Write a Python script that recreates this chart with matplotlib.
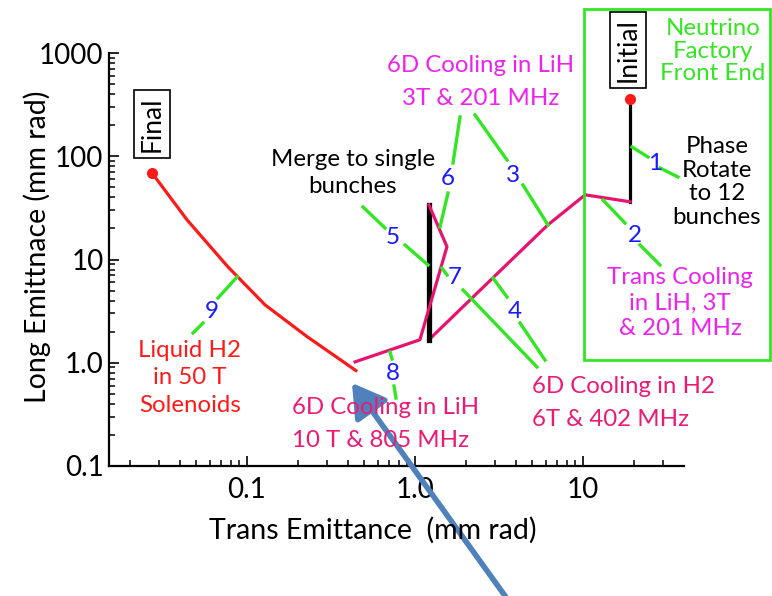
import numpy as np
import matplotlib
matplotlib.use('Agg')
import matplotlib.pyplot as plt
from matplotlib.lines import Line2D
from matplotlib.patches import Rectangle
from matplotlib.ticker import NullFormatter

plt.rcParams['font.family'] = ['Lato', 'DejaVu Sans']

# emittance path, stage by stage (mm rad)
rotate_x = [19.1, 19.1]
rotate_y = [359, 36.2]
trans_x = [19.1, 10.3]
trans_y = [36.2, 42.3]
cool6d_x = [10.3, 6.19, 2.91, 1.21]
cool6d_y = [42.3, 21.7, 6.65, 1.67]
merge_x = [1.21, 1.21]
merge_y = [1.67, 33.8]
lih_x = [1.21, 1.55, 1.07, 0.44]
lih_y = [33.8, 13.3, 1.67, 1.02]
h2_x = [0.445, 0.228, 0.128, 0.077, 0.044, 0.0272]
h2_y = [0.84, 1.79, 3.64, 8.5, 24.2, 69]

W, H = 772, 596
RED = '#ff1a1a'
PINK = '#e6146e'
MAG = '#ee22ee'
PRED = '#ec1a74'
GREEN = '#33e622'
BLUE = '#1a1aff'


def fp(x, y):
    # pixel position -> figure fraction
    return x / W, 1 - y / H


fig = plt.figure(figsize=(W / 100, H / 100), dpi=100)
ax = fig.add_axes([109 / W, 1 - 466 / H, (684 - 109) / W, (466 - 53) / H])
ax.set_xscale('log')
ax.set_yscale('log')
ax.set_xlim(0.0151, 39.9)
ax.set_ylim(0.1, 1000)

ax.plot(rotate_x, rotate_y, color='black', lw=2.3)
ax.plot(trans_x, trans_y, color=PINK, lw=2.3)
ax.plot(cool6d_x, cool6d_y, color=PINK, lw=2.3)
ax.plot(merge_x, merge_y, color='black', lw=3.8)
ax.plot(lih_x, lih_y, color=PINK, lw=2.3)
ax.plot(h2_x, h2_y, color=RED, lw=2.3)
ax.plot(rotate_x[0], rotate_y[0], 'o', color=RED, ms=7)
ax.plot(h2_x[-1], h2_y[-1], 'o', color=RED, ms=7)

for s in ['top', 'right']:
    ax.spines[s].set_visible(False)
for s in ['left', 'bottom']:
    ax.spines[s].set_linewidth(1.6)
ax.set_xticks([0.1, 1, 10], ['0.1', '1.0', '10'])
ax.set_yticks([0.1, 1, 10, 100, 1000], ['0.1', '1.0', '10', '100', '1000'])
ax.xaxis.set_minor_formatter(NullFormatter())
ax.yaxis.set_minor_formatter(NullFormatter())
ax.tick_params(which='major', direction='in', length=7, width=1.2, labelsize=20)
ax.tick_params(which='minor', direction='in', length=4.5, width=1.1)
ax.tick_params(axis='x', which='major', pad=8)
ax.tick_params(axis='y', which='major', pad=4)

fig.text(*fp(373, 530), 'Trans Emittance  (mm rad)', ha='center', va='center', fontsize=20.5)
fig.text(*fp(37, 247), 'Long Emittnace (mm rad)', ha='center', va='center',
         rotation=90, fontsize=20.5)

# green leader lines
leaders = [
    ((632, 147), (648, 157)), ((660, 168), (678, 177)),
    ((603, 200), (625, 223)), ((640, 245), (660, 265)),
    ((475, 115), (507, 160)), ((523, 185), (548, 225)),
    ((493, 278), (507, 297)), ((520, 323), (545, 360)),
    ((363, 207), (385, 228)), ((405, 245), (428, 265)),
    ((460, 117), (453, 163)), ((448, 193), (440, 227)),
    ((442, 268), (447, 275)), ((463, 290), (537, 367)),
    ((390, 352), (392, 359)), ((394, 386), (396, 398)),
    ((237, 277), (218, 298)), ((203, 323), (193, 333)),
]
for (x1, y1), (x2, y2) in leaders:
    fig.add_artist(Line2D([x1 / W, x2 / W], [1 - y1 / H, 1 - y2 / H],
                          transform=fig.transFigure, color=GREEN, lw=2.4))

numbers = {'1': (655, 163), '2': (635, 235), '3': (513, 175), '4': (515, 312),
           '5': (393, 238), '6': (448, 178), '7': (455, 278), '8': (393, 373),
           '9': (212, 312)}
for k, (x, y) in numbers.items():
    fig.text(*fp(x, y), k, color=BLUE, fontsize=17.5, ha='center', va='center')

fs = 17.3
fig.text(*fp(481, 82), '6D Cooling in LiH\n3T & 201 MHz', color=MAG, fontsize=fs,
         ha='center', va='center', linespacing=1.75)
fig.text(*fp(353, 173), 'Merge to single\nbunches', color='black', fontsize=fs,
         ha='center', va='center', linespacing=1.4)
fig.text(*fp(190, 378), 'Liquid H2\nin 50 T\nSolenoids', color=RED, fontsize=fs,
         ha='center', va='center', linespacing=1.4)
fig.text(*fp(292, 424), '6D Cooling in LiH\n10 T & 805 MHz', color=PRED, fontsize=fs,
         ha='left', va='center', linespacing=1.65)
fig.text(*fp(532, 403), '6D Cooling in H2\n6T & 402 MHz', color=PRED, fontsize=fs,
         ha='left', va='center', linespacing=1.75)
fig.text(*fp(680, 303), 'Trans Cooling\nin LiH, 3T\n& 201 MHz', color=MAG, fontsize=fs,
         ha='center', va='center', linespacing=1.25)
fig.text(*fp(717, 182), 'Phase\nRotate\nto 12\nbunches', color='black', fontsize=fs,
         ha='center', va='center', linespacing=1.17)
fig.text(*fp(713, 51), 'Neutrino\nFactory\nFront End', color=GREEN, fontsize=fs,
         ha='center', va='center', linespacing=1.1)

box = dict(boxstyle='square,pad=0.22', fc='white', ec='black', lw=1.2)
fig.text(*fp(152, 124), 'Final', rotation=90, fontsize=19, ha='center', va='center', bbox=box)
fig.text(*fp(628, 50), 'Initial', rotation=90, fontsize=19, ha='center', va='center', bbox=box)

fig.add_artist(Rectangle(fp(584, 360), (770 - 584) / W, (360 - 9) / H,
                         transform=fig.transFigure, fill=False, ec=GREEN, lw=2))

fig.add_artist(plt.Annotation('', xy=fp(352, 383), xycoords='figure fraction',
                              xytext=fp(508, 600), textcoords='figure fraction',
                              arrowprops=dict(arrowstyle='-|>,head_length=1.0,head_width=0.6',
                                              lw=4, color='#4f81bd', mutation_scale=20,
                                              shrinkA=0, shrinkB=0)))

fig.savefig('out.png', dpi=100)
